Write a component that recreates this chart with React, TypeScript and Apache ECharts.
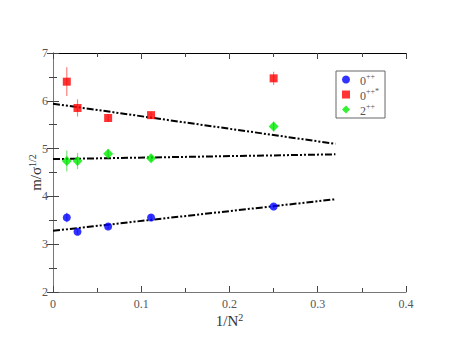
import React, { useEffect, useRef } from "react";
import * as echarts from "echarts";

const xValues = [0.015625, 0.027778, 0.0625, 0.111111, 0.25];
const glueball0 = [3.56, 3.26, 3.37, 3.56, 3.79];
const glueball0Err = [0.1, 0.06, 0.05, 0.05, 0.04];
const glueball0s = [6.4, 5.85, 5.64, 5.7, 6.47];
const glueball0sErr = [0.3, 0.18, 0.08, 0.07, 0.14];
const glueball2 = [4.74, 4.74, 4.89, 4.8, 5.46];
const glueball2Err = [0.22, 0.17, 0.1, 0.06, 0.1];
const fitX = [0, 0.32];
const fit0 = [3.28, 3.94];
const fit0s = [5.94, 5.1];
const fit2 = [4.78, 4.88];

const serif = "Liberation Serif";

function errSeries(name: string, ys: number[], es: number[], color: string) {
  return {
    type: "custom",
    name,
    data: xValues.map((x, i) => [x, ys[i], es[i]]),
    renderItem: (params: any, api: any) => {
      const x = api.value(0);
      const y = api.value(1);
      const e = api.value(2);
      const p1 = api.coord([x, y - e]);
      const p2 = api.coord([x, y + e]);
      return {
        type: "line",
        shape: { x1: p1[0], y1: p1[1], x2: p2[0], y2: p2[1] },
        style: { stroke: color, lineWidth: 1.2 },
      };
    },
    z: 5,
    silent: true,
  };
}

function fitSeries(name: string, ys: number[]) {
  return {
    type: "line",
    name,
    data: fitX.map((x, i) => [x, ys[i]]),
    showSymbol: false,
    symbol: "none",
    lineStyle: { color: "#000", width: 2, type: [7, 2, 2, 2, 2, 2] },
    z: 3,
    silent: true,
  };
}

export default function App() {
  const ref = useRef<HTMLDivElement>(null);
  useEffect(() => {
    const chart = echarts.init(ref.current!, null, { renderer: "svg" });
    const axisCommon = {
      min: 0,
      max: 0.4,
      interval: 0.1,
      splitLine: { show: false },
    };
    const yCommon = {
      min: 2,
      max: 7,
      interval: 1,
      splitLine: { show: false },
    };
    const labelStyle = { fontFamily: serif, fontSize: 12, color: "#555" };
    const tick = { inside: true, length: 6, lineStyle: { color: "#444" } };
    const minor = { show: true, splitNumber: 2, length: 4, lineStyle: { color: "#444" } };
    chart.setOption({
      animation: false,
      backgroundColor: "#fff",
      grid: { left: 53, right: 51, top: 53, bottom: 61 },
      legend: {
        data: ["0++", "0++*", "2++"],
        orient: "vertical",
        left: 336,
        top: 71,
        itemWidth: 8,
        itemHeight: 8,
        itemGap: 0,
        padding: [1, 6, 1, 6],
        borderColor: "#666",
        borderWidth: 1,
        borderRadius: 0,
        formatter: (n: string) =>
          n === "0++" ? "{b|0}{s|++}" : n === "0++*" ? "{b|0}{s|++*}" : "{b|2}{s|++}",
        textStyle: {
          fontFamily: serif,
          color: "#555",
          rich: {
            b: { fontFamily: serif, fontSize: 12, lineHeight: 14, color: "#555", padding: [3, 0, 0, 5] },
            s: { fontFamily: serif, fontSize: 8, lineHeight: 8, color: "#555", verticalAlign: "top" },
          },
        },
      },
      xAxis: [
        {
          ...axisCommon,
          type: "value",
          position: "bottom",
          name: "{b|1/N}{s|2}",
          nameLocation: "middle",
          nameGap: 20,
          nameMoveOverlap: false,
          nameTextStyle: {
            rich: {
              b: { fontFamily: serif, fontSize: 15, color: "#333" },
              s: { fontFamily: serif, fontSize: 10, color: "#333", verticalAlign: "top", padding: [0, 0, 8, 0] },
            },
          },
          axisLine: { lineStyle: { color: "#777", width: 1 } },
          axisTick: tick,
          minorTick: minor,
          axisLabel: { ...labelStyle, margin: 6, formatter: (v: number) => (v === 0 ? "0" : String(Number(v.toFixed(1)))) },
        },
        {
          ...axisCommon,
          type: "value",
          position: "top",
          axisLine: { lineStyle: { color: "#000", width: 1 } },
          axisTick: tick,
          minorTick: minor,
          axisLabel: { show: false },
        },
      ],
      yAxis: [
        {
          ...yCommon,
          type: "value",
          position: "left",
          name: "{b|m/σ}{s|1/2}",
          nameLocation: "middle",
          nameRotate: 90,
          nameGap: 8,
          nameMoveOverlap: false,
          nameTextStyle: {
            rich: {
              b: { fontFamily: serif, fontSize: 15, color: "#333" },
              s: { fontFamily: serif, fontSize: 10, color: "#333", verticalAlign: "top", padding: [0, 0, 8, 0] },
            },
          },
          axisLine: { lineStyle: { color: "#777", width: 1 } },
          axisTick: tick,
          minorTick: minor,
          axisLabel: { ...labelStyle, margin: 5 },
        },
        {
          ...yCommon,
          type: "value",
          position: "right",
          axisLine: { lineStyle: { color: "#777", width: 1 } },
          axisTick: tick,
          minorTick: minor,
          axisLabel: { show: false },
        },
      ],
      series: [
        fitSeries("fit0", fit0),
        fitSeries("fit0s", fit0s),
        fitSeries("fit2", fit2),
        errSeries("e0", glueball0, glueball0Err, "rgba(0,0,255,0.5)"),
        errSeries("e0s", glueball0s, glueball0sErr, "rgba(255,0,0,0.5)"),
        errSeries("e2", glueball2, glueball2Err, "rgba(0,200,0,0.5)"),
        {
          type: "scatter",
          name: "0++",
          data: xValues.map((x, i) => [x, glueball0[i]]),
          symbol: "circle",
          symbolSize: 8,
          itemStyle: { color: "#0000ff" },
          z: 4,
        },
        {
          type: "scatter",
          name: "0++*",
          data: xValues.map((x, i) => [x, glueball0s[i]]),
          symbol: "rect",
          symbolSize: 8,
          itemStyle: { color: "#ff0000" },
          z: 4,
        },
        {
          type: "scatter",
          name: "2++",
          data: xValues.map((x, i) => [x, glueball2[i]]),
          symbol: "diamond",
          symbolSize: 10,
          itemStyle: { color: "#00ee00" },
          z: 4,
        },
      ],
    });
    return () => chart.dispose();
  }, []);
  return <div ref={ref} style={{ position: "fixed", left: 0, top: 0, width: 457, height: 353 }} />;
}
